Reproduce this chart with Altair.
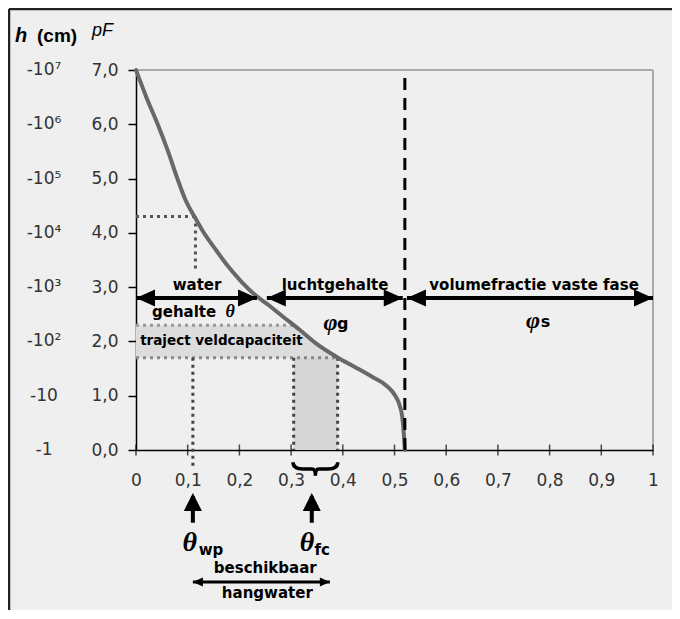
import altair as alt
import pandas as pd

# ---- curve (theta, pF) ----
curve_theta = [0.0, 0.02, 0.042, 0.062, 0.08, 0.096, 0.113, 0.13, 0.155, 0.18, 0.205, 0.23,
               0.255, 0.285, 0.317, 0.35, 0.389, 0.425, 0.458, 0.485, 0.50, 0.51, 0.515, 0.518, 0.52]
curve_pf = [7.0, 6.5, 6.0, 5.5, 5.0, 4.6, 4.3, 4.02, 3.68, 3.36, 3.09, 2.86,
            2.68, 2.45, 2.21, 1.95, 1.71, 1.52, 1.34, 1.18, 1.02, 0.82, 0.61, 0.3, 0.0]

x_ticks = [0, 0.1, 0.2, 0.3, 0.4, 0.5, 0.6, 0.7, 0.8, 0.9, 1.0]
y_ticks = [0, 1, 2, 3, 4, 5, 6, 7]
h_labels = ["-1", "-10", "-10²", "-10³", "-10⁴", "-10⁵", "-10⁶", "-10⁷"]

# field-capacity band (pF 1.7 - 2.3) bounded by the curve
band_pf = [2.3, 2.21, 1.95, 1.7]
band_theta = [0.305, 0.317, 0.35, 0.39]
# shaded column under the band
col_x1, col_x2, col_y1, col_y2 = [0.305], [0.39], [0.0], [1.7]

# dotted guide lines
dot_x1 = [0.0, 0.115, 0.0, 0.0, 0.11, 0.305, 0.39]
dot_x2 = [0.115, 0.115, 0.305, 0.39, 0.11, 0.305, 0.39]
dot_y1 = [4.3, 4.3, 2.3, 1.7, 1.7, 1.7, 1.7]
dot_y2 = [4.3, 3.28, 2.3, 1.7, -0.31, 0.0, 0.0]
dot_col = ["#555", "#555", "#999", "#888", "#444", "#444", "#444"]

# arrows
shaft_x1 = [0.0, 0.253, 0.524, 0.11]
shaft_x2 = [0.234, 0.516, 1.0, 0.375]
shaft_y = [2.8, 2.8, 2.8, -2.43]
shaft_w = [4, 4, 4, 3]
vshaft_x = [0.11, 0.34]
vshaft_y1 = [-1.34, -1.34]
vshaft_y2 = [-0.85, -0.85]
head_left_x = [0.0, 0.253, 0.524]
head_right_x = [0.234, 0.516, 1.0]
head_y = [2.8, 2.8, 2.8]
small_left_x, small_right_x, small_y = [0.11], [0.375], [-2.43]
up_x, up_y = [0.11, 0.34], [-0.79, -0.79]

# texts
bold_text = ["water", "gehalte", "luchtgehalte", "volumefractie vaste fase", "g", "s",
             "wp", "fc", "beschikbaar", "hangwater"]
bold_x = [0.118, 0.093, 0.385, 0.77, 0.40, 0.792, 0.145, 0.36, 0.25, 0.254]
bold_y = [3.04, 2.54, 3.04, 3.04, 2.32, 2.36, -1.84, -1.84, -2.17, -2.63]
bold_size = [15, 15, 15, 15, 16, 16, 15, 15, 15, 15]
greek_text = ["θ", "φ", "φ", "θ", "θ"]
greek_x = [0.182, 0.376, 0.768, 0.104, 0.331]
greek_y = [2.54, 2.34, 2.38, -1.71, -1.71]
greek_size = [18, 24, 24, 28, 28]
traject_text, traject_x, traject_y = ["traject veldcapaciteit"], [0.008], [2.0]
brace_x, brace_y = [0.347], [-0.35]
dash_x = [0.52]

XS = alt.Scale(domain=[0, 1], nice=False, zero=False)
YS = alt.Scale(domain=[0, 7], nice=False, zero=False)
XA = alt.Axis(values=x_ticks, labelExpr="replace(format(datum.value, '~g'), '.', ',')",
              ticks=False, grid=False, title=None, domainColor="black", domainWidth=1.5,
              labelFont="DejaVu Sans", labelFontSize=17, labelColor="#333", labelPadding=22,
              labelFlush=False, labelOverlap=False)
YA = alt.Axis(values=y_ticks, labelExpr="replace(format(datum.value, '.1f'), '.', ',')",
              ticks=True, tickSize=8, tickColor="black", tickWidth=1.5, grid=False, title=None,
              domainColor="black", domainWidth=1.5, labelFont="DejaVu Sans", labelFontSize=17,
              labelColor="#333", labelPadding=10, labelFlush=False, labelOverlap=False)


def X(f):
    return alt.X(f, type="quantitative", scale=XS, axis=XA)


def Y(f):
    return alt.Y(f, type="quantitative", scale=YS, axis=YA)


one = pd.DataFrame({"a": [0]})

# shading
band = alt.Chart(pd.DataFrame({"t": band_theta, "p": band_pf})).mark_area(
    orient="horizontal", color="#dcdcdc", interpolate="monotone").encode(x=X("t"), x2=alt.datum(0), y=Y("p"))
col = alt.Chart(pd.DataFrame({"x1": col_x1, "x2": col_x2, "y1": col_y1, "y2": col_y2})).mark_rect(
    color="#d6d6d6").encode(x=X("x1"), x2="x2", y=Y("y1"), y2="y2")

dots = alt.Chart(pd.DataFrame({"x1": dot_x1, "x2": dot_x2, "y1": dot_y1, "y2": dot_y2, "c": dot_col})).mark_rule(
    strokeDash=[3, 4], strokeWidth=3).encode(
    x=X("x1"), x2="x2", y=Y("y1"), y2="y2", color=alt.Color("c:N", scale=None))

# frame of plot: top and right gray
frame = alt.Chart(pd.DataFrame({"x1": [0, 1], "x2": [1, 1], "y1": [7, 0], "y2": [7, 7]})).mark_rule(
    color="#aaaaaa", strokeWidth=2).encode(x=X("x1"), x2="x2", y=Y("y1"), y2="y2")

# main curve
curve = alt.Chart(pd.DataFrame({"t": curve_theta, "p": curve_pf, "o": list(range(len(curve_pf)))})).mark_line(
    color="#686868", strokeWidth=4, strokeCap="round", interpolate="monotone").encode(
    x=X("t"), y=Y("p"), order="o:Q")

xticks = alt.Chart(pd.DataFrame({"x": x_ticks, "y": [0] * len(x_ticks)})).mark_tick(
    orient="vertical", size=11, thickness=1.5, color="black").encode(x=X("x"), y=Y("y"))

dash = alt.Chart(pd.DataFrame({"x": dash_x, "y1": [0], "y2": [7]})).mark_rule(
    color="black", strokeWidth=3, strokeDash=[12, 8]).encode(x=X("x"), y=Y("y1"), y2="y2")

shafts = alt.Chart(pd.DataFrame({"x1": shaft_x1, "x2": shaft_x2, "y": shaft_y, "w": shaft_w})).mark_rule(
    color="black").encode(x=X("x1"), x2="x2", y=Y("y"), strokeWidth=alt.StrokeWidth("w:Q", scale=None))
vshafts = alt.Chart(pd.DataFrame({"x": vshaft_x, "y1": vshaft_y1, "y2": vshaft_y2})).mark_rule(
    color="black", strokeWidth=4).encode(x=X("x"), y=Y("y1"), y2="y2")

LEFT = "M0,0L2,-0.9L2,0.9Z"
RIGHT = "M0,0L-2,-0.9L-2,0.9Z"
UP = "M0,0L-1,2L1,2Z"
BRACE = "M-1,-0.3Q-1,0,-0.55,0L-0.15,0Q0,0,0,0.3Q0,0,0.15,0L0.55,0Q1,0,1,-0.3"


def heads(xs, ys, shape, size):
    return alt.Chart(pd.DataFrame({"x": xs, "y": ys})).mark_point(
        shape=shape, size=size, filled=True, color="black", opacity=1, strokeWidth=0).encode(x=X("x"), y=Y("y"))


h1 = heads(head_left_x, head_y, LEFT, 361)
h2 = heads(head_right_x, head_y, RIGHT, 361)
h3 = heads(small_left_x, small_y, LEFT, 100)
h4 = heads(small_right_x, small_y, RIGHT, 100)
h5 = heads(up_x, up_y, UP, 324)

brace = alt.Chart(pd.DataFrame({"x": brace_x, "y": brace_y})).mark_point(
    shape=BRACE, size=2000, filled=False, color="black", opacity=1, strokeWidth=3.5).encode(
    x=X("x"), y=Y("y"))

bold = alt.Chart(pd.DataFrame({"x": bold_x, "y": bold_y, "t": bold_text, "s": bold_size})).mark_text(
    font="DejaVu Sans", fontWeight="bold", align="center", baseline="middle", color="black").encode(
    x=X("x"), y=Y("y"), text="t:N", size=alt.Size("s:Q", scale=None))
greek = alt.Chart(pd.DataFrame({"x": greek_x, "y": greek_y, "t": greek_text, "s": greek_size})).mark_text(
    font="Liberation Serif", fontWeight="bold", fontStyle="italic", align="center", baseline="middle",
    color="black").encode(x=X("x"), y=Y("y"), text="t:N", size=alt.Size("s:Q", scale=None))
traject = alt.Chart(pd.DataFrame({"x": traject_x, "y": traject_y, "t": traject_text})).mark_text(
    font="DejaVu Sans", fontWeight="bold", fontSize=13.5, align="left", baseline="middle",
    color="black").encode(x=X("x"), y=Y("y"), text="t:N")

hlab = alt.Chart(pd.DataFrame({"y": y_ticks, "t": h_labels})).mark_text(
    font="DejaVu Sans", fontSize=17, align="center", baseline="middle", color="#333").encode(
    x=alt.value(-92), y=Y("y"), text="t:N")

hdr_h = alt.Chart(one).mark_text(text="h", font="Liberation Sans", fontWeight="bold", fontStyle="italic",
                                 fontSize=20, align="left", baseline="alphabetic").encode(
    x=alt.value(-121), y=alt.value(-28))
hdr_cm = alt.Chart(one).mark_text(text="(cm)", font="Liberation Sans", fontWeight="bold",
                                  fontSize=19, align="left", baseline="alphabetic").encode(
    x=alt.value(-99), y=alt.value(-28))
hdr_pf = alt.Chart(one).mark_text(text="pF", font="Liberation Sans", fontStyle="italic",
                                  fontSize=18, align="left", baseline="alphabetic").encode(
    x=alt.value(-44), y=alt.value(-34))

border_l = alt.Chart(one).mark_rule(color="#222", strokeWidth=2.5).encode(
    x=alt.value(-127), y=alt.value(-61), y2=alt.value(620))
border_t = alt.Chart(one).mark_rule(color="#222", strokeWidth=2.5).encode(
    x=alt.value(-127), x2=alt.value(620), y=alt.value(-61))

chart = alt.layer(
    band, col, dots, frame, curve, xticks, dash, shafts, vshafts, h1, h2, h3, h4, h5, brace,
    bold, greek, traject, hlab, hdr_h, hdr_cm, hdr_pf, border_l, border_t
).properties(
    width=517, height=380,
    autosize=alt.AutoSizeParams(type="none"),
    padding={"left": 128, "top": 62, "right": 19, "bottom": 160},
    background="#efefef",
).configure_view(strokeWidth=0)

chart.save("out.html", embed_options={"renderer": "svg", "actions": False})
